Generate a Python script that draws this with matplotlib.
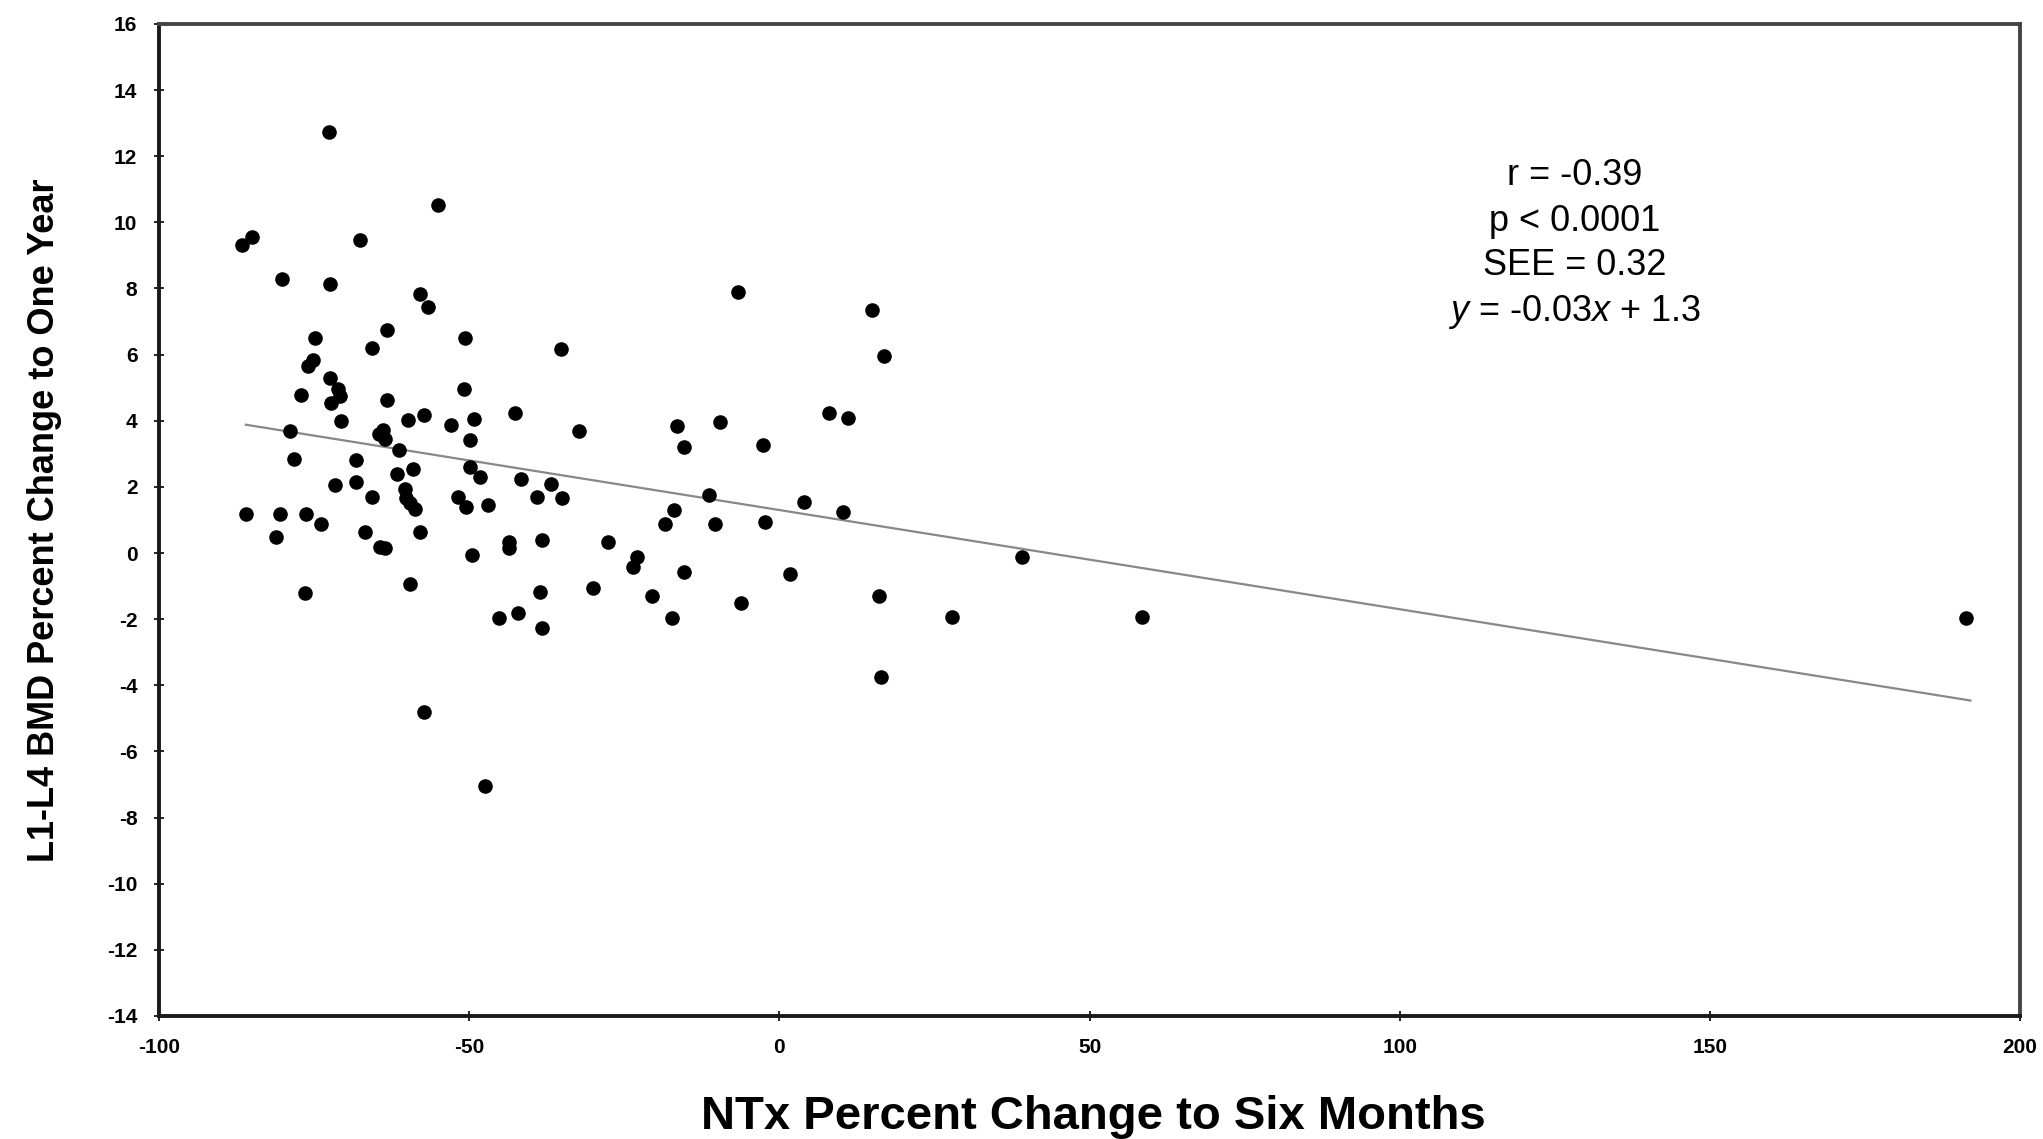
import matplotlib
matplotlib.use('Agg')
import matplotlib.pyplot as plt
import numpy as np

plt.rcParams['font.family'] = ['Liberation Sans', 'DejaVu Sans']
plt.rcParams['axes.unicode_minus'] = False
plt.rcParams['mathtext.fontset'] = 'custom'
plt.rcParams['mathtext.it'] = 'Liberation Sans:italic'
plt.rcParams['mathtext.rm'] = 'Liberation Sans'

# NTx % change at six months vs L1-L4 BMD % change at one year
ntx_change = [
    -72.6, -55.1, -86.6, -85.0, -67.6, -80.1, -72.4, -58.0, -56.6, -74.8,
    -63.2, -65.7, -50.6, -35.2, -75.2, -76.0,
    -72.5, -71.2, -70.8, -72.2, -77.1, -63.2, -50.8, -70.6, -63.9, -63.6,
    -64.5, -59.8, -57.2, -52.9, -49.2, -49.9, -42.6, -32.3, -78.9, -78.3,
    -68.3, -61.3, -71.6, -68.3, -65.7, -61.7, -59.0, -60.4, -60.1, -58.8,
    -59.5, -49.9, -48.3, -51.8, -50.5, -47.0, -41.7, -39.0, -36.8, -35.0,
    -85.9, -80.5, -76.3, -73.9, -81.1, -66.8, -63.6, -64.4, -58.0, -49.6,
    -43.5, -43.5, -38.2,
    -6.7, 15.0, 16.8, 8.0, 11.1, -16.5, -15.4, -9.5, -2.6, -11.4,
    -17.0, -18.5, -10.3, -2.3, 4.0, 10.3, -27.6,
    -22.9, -23.6, -15.4, -59.5, -38.6, -30.1, -20.6, -6.2, -45.2, -42.2,
    -38.2, -17.3, -57.3, -47.4, -76.4,
    1.7, 16.0, 27.9, 16.4, 39.1, 58.4, 191.2,
]
bmd_change = [
    12.72, 10.53, 9.30, 9.55, 9.48, 8.29, 8.14, 7.84, 7.44, 6.51,
    6.75, 6.20, 6.51, 6.16, 5.85, 5.65,
    5.30, 4.95, 4.75, 4.55, 4.77, 4.64, 4.97, 3.98, 3.71, 3.46,
    3.60, 4.01, 4.17, 3.86, 4.06, 3.41, 4.22, 3.69, 3.68, 2.84,
    2.81, 3.11, 2.05, 2.15, 1.70, 2.40, 2.55, 1.95, 1.65, 1.34,
    1.50, 2.60, 2.30, 1.70, 1.40, 1.45, 2.25, 1.70, 2.10, 1.65,
    1.19, 1.17, 1.19, 0.89, 0.49, 0.64, 0.14, 0.19, 0.64, -0.06,
    0.34, 0.14, 0.39,
    7.89, 7.34, 5.96, 4.24, 4.08, 3.84, 3.21, 3.96, 3.28, 1.75,
    1.30, 0.89, 0.89, 0.94, 1.55, 1.24, 0.34,
    -0.11, -0.42, -0.57, -0.95, -1.17, -1.07, -1.30, -1.50, -1.98, -1.80,
    -2.26, -1.98, -4.82, -7.04, -1.22,
    -0.62, -1.29, -1.93, -3.74, -0.11, -1.93, -1.97,
]

# regression reported on the chart
slope = -0.03
intercept = 1.3
fit_range = [-86, 192]

stats_lines = ['r = -0.39', 'p < 0.0001', 'SEE = 0.32', r'$\it{y}$ = -0.03$\it{x}$ + 1.3']

x_ticks = [-100, -50, 0, 50, 100, 150, 200]
y_ticks = list(range(-14, 17, 2))

fig = plt.figure(figsize=(20.43, 11.39), dpi=100)
ax = fig.add_axes([0.0778, 0.108, 0.911, 0.871])

fx = np.array(fit_range, dtype=float)
ax.plot(fx, slope * fx + intercept, color='#888888', lw=1.6, zorder=2)
ax.plot(ntx_change, bmd_change, 'o', color='black', ms=10.5, mew=0, zorder=3)

ax.set_xlim(-100, 200)
ax.set_ylim(-14, 16)
ax.set_xticks(x_ticks)
ax.set_yticks(y_ticks)
ax.tick_params(direction='inout', length=7, width=1.2, labelsize=15)
ax.tick_params(axis='y', pad=12)
ax.tick_params(axis='x', pad=12)
for lab in ax.get_xticklabels() + ax.get_yticklabels():
    lab.set_fontweight('bold')

for side in ['left', 'bottom']:
    ax.spines[side].set_linewidth(2.8)
    ax.spines[side].set_color('#1a1a1a')
for side in ['top', 'right']:
    ax.spines[side].set_linewidth(2.8)
    ax.spines[side].set_color('#444444')

ax.set_xlabel('NTx Percent Change to Six Months', fontsize=34, fontweight='bold')
ax.xaxis.set_label_coords(0.502, -0.08)
ax.set_ylabel('L1-L4 BMD Percent Change to One Year', fontsize=26, fontweight='bold')
ax.yaxis.set_label_coords(-0.052, 0.5)

line_y = [11.43, 10.04, 8.68, 7.28]
for txt, yy in zip(stats_lines, line_y):
    ax.text(128.2, yy, txt, fontsize=26, ha='center', va='center')

fig.savefig('out.png', dpi=100)
